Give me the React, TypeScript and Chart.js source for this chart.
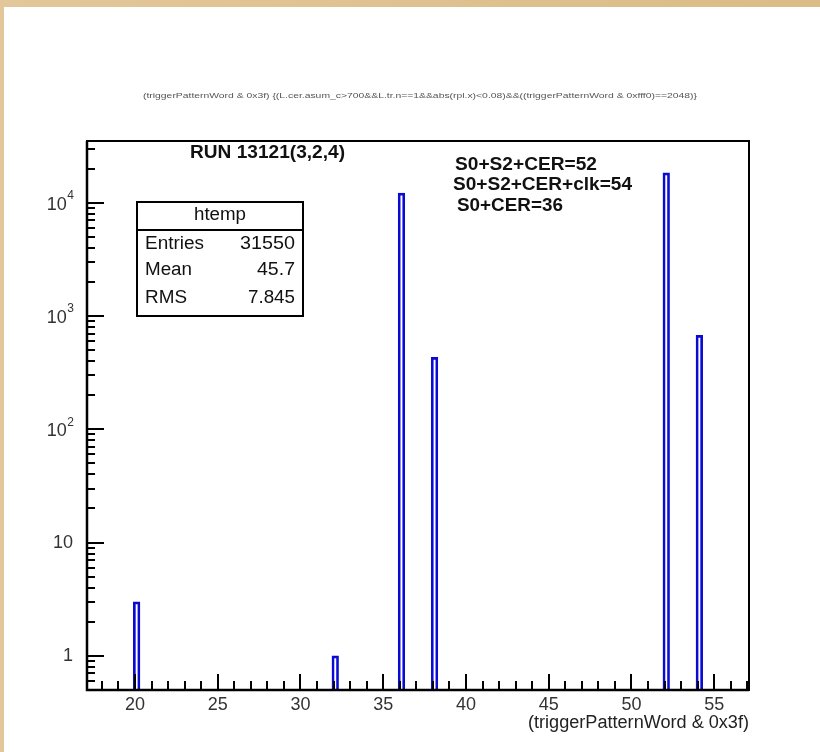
import React, { useEffect, useRef } from "react";
import { Chart, registerables } from "chart.js";

Chart.register(...registerables);

// ---------- data ----------
const binCenters = [20.1, 32.1, 36.1, 38.1, 52.1, 54.1];
const counts = [3, 1, 12120, 431, 18320, 675];
const BIN_WIDTH = 0.4;
const X_MIN = 17.1;
const X_MAX = 57.1;
const Y_MIN = 0.5;
const Y_MAX = 35000;

const xMajorTicks = [20, 25, 30, 35, 40, 45, 50, 55];
const xMinorTicks = [18, 19, 21, 22, 23, 24, 26, 27, 28, 29, 31, 32, 33, 34, 36, 37, 38, 39, 41, 42, 43, 44, 46, 47, 48, 49, 51, 52, 53, 54, 56, 57];
const xTickLabels = ["20", "25", "30", "35", "40", "45", "50", "55"];

const yMajorTicks = [1, 10, 100, 1000, 10000];
const yMinorTicks = [
  0.6, 0.7, 0.8, 0.9,
  2, 3, 4, 5, 6, 7, 8, 9,
  20, 30, 40, 50, 60, 70, 80, 90,
  200, 300, 400, 500, 600, 700, 800, 900,
  2000, 3000, 4000, 5000, 6000, 7000, 8000, 9000,
  20000, 30000,
];
const yTickBases = ["1", "10", "10", "10", "10"];
const yTickExponents = ["", "", "2", "3", "4"];

const titleText =
  "(triggerPatternWord & 0x3f) {(L.cer.asum_c>700&&L.tr.n==1&&abs(rpl.x)<0.08)&&((triggerPatternWord & 0xfff0)==2048)}";
const xAxisTitle = "(triggerPatternWord & 0x3f)";
const runLabel = "RUN 13121(3,2,4)";
const triggerNotes = ["S0+S2+CER=52", "S0+S2+CER+clk=54", "S0+CER=36"];
const statsName = "htemp";
const statsLabels = ["Entries", "Mean", "RMS"];
const statsValues = ["31550", "45.7", "7.845"];

// ---------- layout ----------
const CW = 816;
const CH = 745;
const OX = 4; // canvas offset on page
const OY = 7;
const PAD = { left: 83, top: 134, right: 71, bottom: 62 };
const PLOT_W = CW - PAD.left - PAD.right;
const FONT = '"Liberation Sans", Arial, Helvetica, sans-serif';

function fitText(
  ctx: CanvasRenderingContext2D,
  text: string,
  x: number,
  y: number,
  w: number,
  font: string,
  align: "left" | "right" | "center",
  color: string
) {
  ctx.save();
  ctx.font = font;
  ctx.fillStyle = color;
  ctx.textBaseline = "middle";
  const m = ctx.measureText(text).width;
  const s = w > 0 ? w / m : 1;
  ctx.translate(x - OX, y - OY);
  ctx.scale(s, 1);
  ctx.textAlign = align;
  ctx.fillText(text, 0, 0);
  ctx.restore();
}

const rootDecor = {
  id: "rootDecor",
  afterDraw(chart: any) {
    const { ctx, chartArea: a, scales } = chart;
    const xs = scales.x;
    const ys = scales.y;
    ctx.save();
    ctx.strokeStyle = "#000";
    ctx.lineWidth = 2;
    ctx.beginPath();
    for (const v of xMajorTicks) {
      const px = Math.round(xs.getPixelForValue(v)) + 0.0;
      ctx.moveTo(px, a.bottom);
      ctx.lineTo(px, a.bottom - 16);
    }
    for (const v of xMinorTicks) {
      const px = Math.round(xs.getPixelForValue(v));
      ctx.moveTo(px, a.bottom);
      ctx.lineTo(px, a.bottom - 9);
    }
    for (const v of yMajorTicks) {
      const py = Math.round(ys.getPixelForValue(v));
      ctx.moveTo(a.left, py);
      ctx.lineTo(a.left + 17, py);
    }
    for (const v of yMinorTicks) {
      const py = Math.round(ys.getPixelForValue(v));
      ctx.moveTo(a.left, py);
      ctx.lineTo(a.left + 8, py);
    }
    ctx.stroke();

    // frame
    ctx.lineWidth = 2;
    ctx.strokeRect(a.left, a.top, a.right - a.left, a.bottom - a.top);
    ctx.lineWidth = 2.5;
    ctx.beginPath();
    ctx.moveTo(a.left, a.top);
    ctx.lineTo(a.left, a.bottom);
    ctx.lineTo(a.right, a.bottom);
    ctx.stroke();
    ctx.restore();

    // x tick labels
    xMajorTicks.forEach((v, i) => {
      const px = xs.getPixelForValue(v) + OX;
      fitText(ctx, xTickLabels[i], px, 705, 0, `18px ${FONT}`, "center", "#333");
    });
    // y tick labels
    yMajorTicks.forEach((v, i) => {
      const py = ys.getPixelForValue(v) + OY;
      const exp = yTickExponents[i];
      if (exp) {
        ctx.save();
        ctx.font = `12px ${FONT}`;
        const ew = ctx.measureText(exp).width;
        ctx.restore();
        fitText(ctx, exp, 74, py - 7, 0, `12px ${FONT}`, "right", "#333");
        fitText(ctx, yTickBases[i], 74 - ew - 0.5, py + 2, 0, `18px ${FONT}`, "right", "#333");
      } else {
        fitText(ctx, yTickBases[i], 73, py, 0, `18px ${FONT}`, "right", "#333");
      }
    });

    // axis title
    fitText(ctx, xAxisTitle, 749, 723, 221, `18px ${FONT}`, "right", "#222");
    // title
    fitText(ctx, titleText, 143, 96, 554, `8px ${FONT}`, "left", "#555");
    // run label
    fitText(ctx, runLabel, 190, 153, 155, `bold 19px ${FONT}`, "left", "#111");
    // trigger notes
    fitText(ctx, triggerNotes[0], 455, 165, 142, `bold 19px ${FONT}`, "left", "#111");
    fitText(ctx, triggerNotes[1], 453, 185, 179, `bold 19px ${FONT}`, "left", "#111");
    fitText(ctx, triggerNotes[2], 457, 206, 106, `bold 19px ${FONT}`, "left", "#111");

    // stats box
    ctx.save();
    ctx.fillStyle = "#fff";
    ctx.strokeStyle = "#000";
    ctx.lineWidth = 2;
    ctx.fillRect(137 - OX, 202 - OY, 166, 114);
    ctx.strokeRect(137 - OX, 202 - OY, 166, 114);
    ctx.beginPath();
    ctx.moveTo(137 - OX, 230 - OY);
    ctx.lineTo(303 - OX, 230 - OY);
    ctx.stroke();
    ctx.restore();
    fitText(ctx, statsName, 220, 215, 52, `18px ${FONT}`, "center", "#111");
    const rowY = [244, 270, 298];
    const labelW = [59, 47, 42];
    const valueW = [55, 38, 47];
    statsLabels.forEach((l, i) => {
      fitText(ctx, l, 145, rowY[i], labelW[i], `18px ${FONT}`, "left", "#111");
      fitText(ctx, statsValues[i], 295, rowY[i], valueW[i], `18px ${FONT}`, "right", "#111");
    });
  },
};

export default function App() {
  const ref = useRef<HTMLCanvasElement>(null);
  useEffect(() => {
    const canvas = ref.current!;
    const chart = new Chart(canvas, {
      type: "bar",
      data: {
        datasets: [
          {
            label: "htemp",
            data: binCenters.map((x, i) => ({ x, y: [Y_MIN, counts[i]] })) as any,
            backgroundColor: "rgba(255,255,255,0)",
            borderColor: "#0a0ad2",
            borderWidth: 2,
            borderSkipped: "bottom",
            barThickness: (BIN_WIDTH / (X_MAX - X_MIN)) * PLOT_W,
            grouped: false,
          } as any,
        ],
      },
      options: {
        responsive: false,
        animation: false,
        devicePixelRatio: 1,
        layout: { padding: PAD },
        plugins: {
          legend: { display: false },
          tooltip: { enabled: false },
          title: { display: false },
        },
        scales: {
          x: { type: "linear", min: X_MIN, max: X_MAX, display: false, offset: false },
          y: { type: "logarithmic", min: Y_MIN, max: Y_MAX, display: false },
        },
      },
      plugins: [rootDecor],
    });
    return () => chart.destroy();
  }, []);

  return (
    <div
      style={{
        position: "fixed",
        left: 0,
        top: 0,
        width: 820,
        height: 752,
        background: "linear-gradient(90deg, #E2C79B, #DBBC87)",
        overflow: "hidden",
      }}
    >
      <div style={{ position: "absolute", left: OX, top: OY, width: CW, height: CH, background: "#fff" }}>
        <canvas ref={ref} width={CW} height={CH} style={{ display: "block", width: CW, height: CH }} />
      </div>
    </div>
  );
}
